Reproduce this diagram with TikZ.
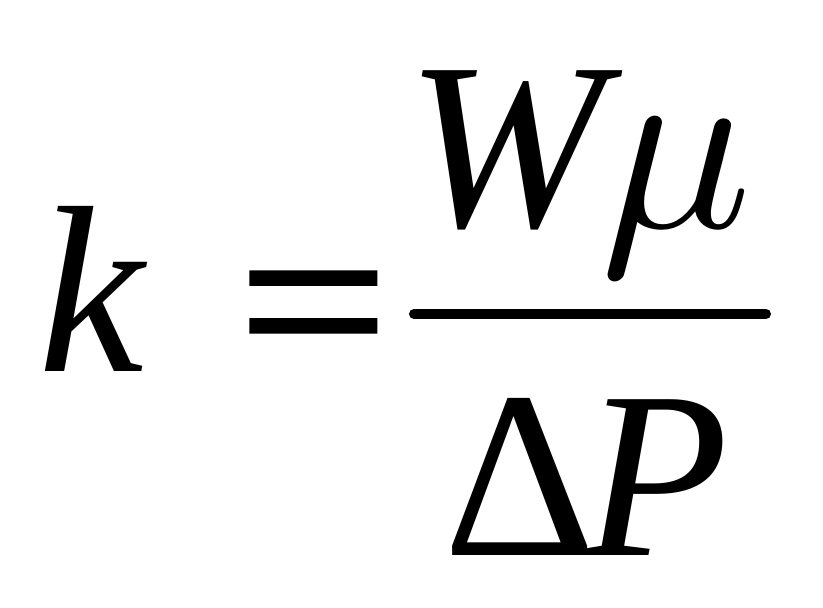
\documentclass[tikz,border=0pt]{standalone}
\usepackage{fontspec}
\usepackage{graphicx}
\setmainfont{Liberation Serif}
\newfontfamily\eqfont[FakeBold=1.5]{Liberation Serif}
\begin{document}
\begin{tikzpicture}[x=1pt,y=1pt,
  sym/.style={inner sep=0pt,outer sep=0pt,anchor=base west,font=\fontsize{238}{250}\selectfont}]
\useasboundingbox (0,0) rectangle (823,608);
\node[sym] (k) at (38,236) {\itshape k};
\node[sym,font=\fontsize{238}{250}\selectfont\eqfont] (eq) at (238,227) {\scalebox{1.12}[1]{=}};
\node[sym] (W) at (406,381) {\itshape W};
\node[sym] (mu) at (600,381) {\scalebox{25.2}{\fontsize{10}{12}\selectfont\(\mu\)}};
\node[sym] (D) at (443,52) {Δ};
\node[sym] (P) at (583,52) {\itshape P};
\draw[line width=10pt,line cap=round] (414,294) -- (766,294);
\end{tikzpicture}
\end{document}
